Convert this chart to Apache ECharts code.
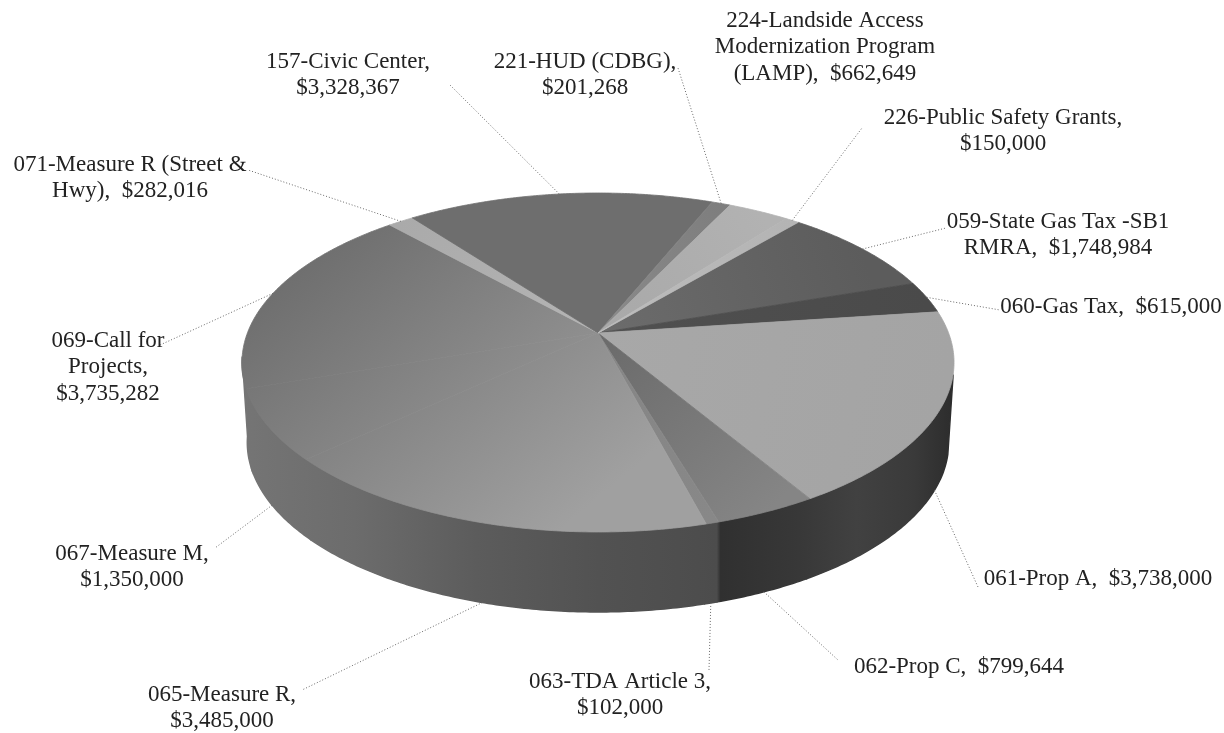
<!DOCTYPE html>
<html>
<head>
<meta charset="utf-8">
<style>html,body{margin:0;padding:0;background:#fff}#chart{width:1224px;height:733px}</style>
<script src="https://cdn.jsdelivr.net/npm/echarts@6/dist/echarts.min.js"></script>
</head>
<body>
<div id="chart"></div>
<script>
// Funding sources, clockwise from the back right of the pie.
const fundCodes = ['059', '060', '061', '062', '063', '065', '067', '069', '071', '157', '221', '224', '226'];
const fundNames = [
  '059-State Gas Tax -SB1\nRMRA,  $1,748,984',
  '060-Gas Tax,  $615,000',
  '061-Prop A,  $3,738,000',
  '062-Prop C,  $799,644',
  '063-TDA Article 3,\n$102,000',
  '065-Measure R,\n$3,485,000',
  '067-Measure M,\n$1,350,000',
  '069-Call for\nProjects,\n$3,735,282',
  '071-Measure R (Street &\nHwy),  $282,016',
  '157-Civic Center,\n$3,328,367',
  '221-HUD (CDBG),\n$201,268',
  '224-Landside Access\nModernization Program\n(LAMP),  $662,649',
  '226-Public Safety Grants,\n$150,000'
];
const fundValues = [1748984, 615000, 3738000, 799644, 102000, 3485000, 1350000, 3735282, 282016, 3328367, 201268, 662649, 150000];

// Layout of the tilted disc and its labels.
const disc = { x0: 598, y0: 333, rx: 350.6, ry: 106.4, persp: -0.174, depth: 80, baseScale: 0.985, startDeg: 40.3 };
const labelCenters = [
  [1058, 235], [1111, 307], [1098, 579], [959, 667], [620, 695], [222, 708], [132, 567], [108, 367],
  [130, 178], [348, 75], [585, 75], [825, 47], [1003, 131]
];
const leaderEnds = [
  [946, 228], [1000, 310], [978, 587], [838, 660], [709, 670], [302, 690], [215, 548], [160, 345],
  [248, 170], [450, 85], [678, 68], null, [862, 128]
];
// Part of the rim, in degrees clockwise from the back, where the wall faces the viewer.
const wallRange = [104, 262];
// Fill per slice, from the centre of the disc out to its rim.
const topFills = [
  ['#6c6c6c', '#5c5c5c'], ['#505050', '#4a4a4a'], ['#a8a8a8', '#a4a4a4'], ['#6a6a6a', '#858585'], ['#858585', '#888888'],
  null, null, null, ['#b4b4b4', '#aaaaaa'],
  ['#6e6e6e', '#6e6e6e'], ['#8a8a8a', '#7e7e7e'], ['#a8a8a8', '#b2b2b2'], ['#bcbcbc', '#b4b4b4']
];
// The three large left-hand slices share one soft gradient across the face.
const blendStops = [[0, '#6a6a6a'], [1, '#a0a0a0']];
const wallStops = [
  [0, '#757575'], [0.16, '#6c6c6c'], [0.33, '#5c5c5c'], [0.5, '#525252'], [0.665, '#4c4c4c'],
  [0.67, '#303030'], [0.78, '#383838'], [0.86, '#414141'], [0.94, '#3a3a3a'], [1, '#2b2b2b']
];

const total = fundValues.reduce((a, b) => a + b, 0);
const sliceStart = [];
fundValues.reduce((sum, v, i) => { sliceStart[i] = sum; return sum + v; }, 0);
const toRad = share => (disc.startDeg / 180 + 2 * share / total) * Math.PI;
const degRad = d => d * Math.PI / 180;

// Circle to screen through a simple perspective projection.
function rim(angle, onBase) {
  const u = Math.sin(angle), v = -Math.cos(angle);
  const w = 1 + disc.persp * v;
  const scale = onBase ? disc.baseScale : 1;
  return [
    disc.x0 + scale * disc.rx * u / w,
    (disc.ry * v + disc.y0) / w + (onBase ? disc.depth : 0)
  ];
}
function arcPoints(a0, a1, onBase) {
  const n = Math.max(2, Math.ceil(Math.abs(a1 - a0) / 0.01));
  const pts = [];
  for (let i = 0; i <= n; i++) pts.push(rim(a0 + (a1 - a0) * i / n, onBase));
  return pts;
}
const toStops = stops => stops.map(([offset, color]) => ({ offset, color }));
const wallFill = { type: 'linear', global: true, x: 240, y: 0, x2: 957, y2: 0, colorStops: toStops(wallStops) };
const blendFill = { type: 'linear', global: true, x: 300, y: 220, x2: 560, y2: 530, colorStops: toStops(blendStops) };

const chart = echarts.init(document.getElementById('chart'));
chart.setOption({
  backgroundColor: '#fff',
  animation: false,
  series: [
    {
      // Outer wall of the disc, only where it faces the viewer.
      type: 'custom', coordinateSystem: 'none', silent: true, z: 1,
      data: fundValues,
      renderItem: (params, api) => {
        const i = params.dataIndex;
        const a0 = Math.max(toRad(sliceStart[i]), degRad(wallRange[0]));
        const a1 = Math.min(toRad(sliceStart[i] + api.value(0)), degRad(wallRange[1]));
        if (a1 <= a0) return null;
        const points = arcPoints(a0, a1, false).concat(arcPoints(a1, a0, true));
        return { type: 'polygon', shape: { points },
          style: { fill: wallFill, stroke: wallFill, lineWidth: 1.5 } };
      }
    },
    {
      // Slices on the top face.
      type: 'custom', coordinateSystem: 'none', silent: true, z: 2,
      data: fundValues,
      renderItem: (params, api) => {
        const i = params.dataIndex;
        const a0 = toRad(sliceStart[i]), a1 = toRad(sliceStart[i] + api.value(0));
        const points = [[disc.x0, disc.y0]].concat(arcPoints(a0, a1, false));
        const mid = rim((a0 + a1) / 2, false);
        const fill = topFills[i]
          ? { type: 'linear', global: true, x: disc.x0, y: disc.y0, x2: mid[0], y2: mid[1],
              colorStops: [{ offset: 0, color: topFills[i][0] }, { offset: 1, color: topFills[i][1] }] }
          : blendFill;
        return { type: 'polygon', shape: { points },
          style: { fill, stroke: fill, lineWidth: 0.8 } };
      }
    },
    {
      // Labels with dotted leader lines running to the rim.
      type: 'custom', coordinateSystem: 'none', silent: true, z: 3,
      data: fundValues,
      renderItem: (params, api) => {
        const i = params.dataIndex;
        const a = toRad(sliceStart[i] + api.value(0) / 2);
        const front = Math.cos(a) < 0 && Math.sin(a) > -0.95;
        const children = [];
        if (leaderEnds[i]) {
          const p = rim(a, front);
          children.push({ type: 'line',
            shape: { x1: p[0], y1: p[1], x2: leaderEnds[i][0], y2: leaderEnds[i][1] },
            style: { stroke: '#6a6a6a', lineWidth: 1, lineDash: [1, 2] } });
        }
        children.push({ type: 'text',
          style: { x: labelCenters[i][0], y: labelCenters[i][1], text: fundNames[i],
            align: 'center', verticalAlign: 'middle', lineHeight: 26.5,
            font: '23px "Liberation Serif", serif', fill: '#222222' } });
        return { type: 'group', children };
      }
    }
  ]
});
</script>
</body>
</html>
